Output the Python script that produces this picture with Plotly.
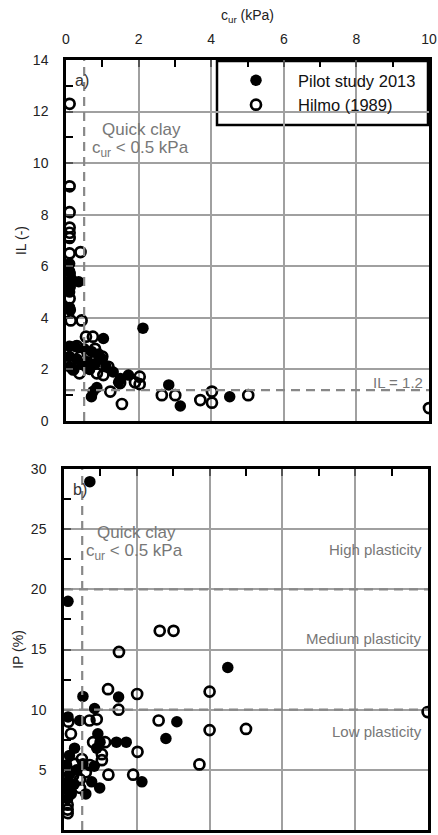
import plotly.graph_objects as go

# ---------------- data ----------------
# Panel a: remoulded shear strength c_ur (kPa) vs liquidity index IL (-)
pilot_a_cur = [0.1, 0.1, 0.15, 0.35, 0.1, 0.1, 0.1, 0.12, 2.12, 1.03, 0.1, 0.25, 0.5, 0.7, 0.9,
               0.1, 0.3, 0.6, 0.8, 1.0, 0.1, 0.2, 0.45, 0.65, 1.3, 1.5, 1.72, 1.45, 0.85, 0.75,
               0.7, 2.83, 3.15, 4.51, 0.9, 1.1]
pilot_a_il = [6.1, 5.8, 5.5, 5.4, 5.3, 5.0, 4.4, 4.3, 3.6, 3.2, 2.9, 2.9, 2.8, 2.7, 2.6,
              2.5, 2.4, 2.3, 2.2, 2.4, 2.1, 2.0, 2.2, 2.0, 1.9, 1.65, 1.78, 1.5, 1.3, 1.15,
              0.94, 1.4, 0.58, 0.94, 2.5, 2.1]

hilmo_a_cur = [0.1, 0.1, 0.1, 0.1, 0.1, 0.1, 0.1, 0.4, 0.1, 0.1, 0.1, 0.13, 0.43, 0.55, 0.74,
               0.3, 0.6, 0.1, 0.4, 0.8, 1.0, 1.17, 0.37, 0.85, 1.03, 1.22, 1.54, 1.49, 2.03,
               2.03, 1.9, 2.64, 3.01, 3.7, 4.02, 4.02, 5.02, 10.0, 0.2]
hilmo_a_il = [12.3, 9.1, 8.1, 7.5, 7.3, 7.1, 6.5, 6.55, 5.7, 5.2, 4.75, 3.9, 3.9, 3.27, 3.27,
              2.9, 2.6, 2.2, 2.5, 2.8, 2.5, 2.1, 1.85, 1.85, 1.78, 1.14, 0.66, 1.47, 1.72,
              1.43, 1.5, 1.0, 1.0, 0.81, 1.14, 0.71, 1.0, 0.5, 2.0]

# Panel b: c_ur (kPa) vs plasticity index IP (%)
pilot_b_cur = [0.71, 0.11, 4.5, 0.52, 1.5, 0.84, 0.11, 0.43, 3.1, 2.8, 0.93, 1.44, 1.71, 0.99,
               0.29, 0.15, 0.52, 0.83, 0.07, 0.15, 0.76, 2.14, 0.28, 0.98, 0.07, 0.1, 0.6,
               0.35, 0.1, 0.9, 0.2]
pilot_b_ip = [28.95, 19.0, 13.5, 11.1, 11.05, 10.1, 9.4, 9.1, 9.0, 7.6, 8.0, 7.3, 7.3, 7.3,
              6.8, 6.2, 5.5, 5.3, 5.4, 4.6, 4.0, 4.0, 3.8, 3.5, 3.4, 2.6, 3.0,
              5.0, 4.0, 6.8, 3.0]

hilmo_b_cur = [2.63, 3.01, 1.51, 1.21, 2.01, 4.0, 9.99, 1.5, 0.12, 0.7, 0.9, 2.6, 4.0, 5.0,
               0.19, 0.8, 1.13, 2.02, 1.04, 1.04, 0.49, 0.71, 0.1, 3.72, 1.22, 1.9, 0.6,
               0.44, 0.44, 0.1, 0.1, 0.1, 0.1, 0.25, 0.3]
hilmo_b_ip = [16.55, 16.55, 14.8, 11.7, 11.3, 11.5, 9.8, 10.0, 9.0, 9.1, 9.2, 9.1, 8.3, 8.4,
              8.0, 7.3, 7.3, 6.5, 6.3, 5.8, 5.9, 5.4, 5.0, 5.45, 4.6, 4.6, 4.8,
              4.2, 3.5, 2.9, 2.1, 1.7, 1.4, 4.5, 5.5]

series_names = ["Pilot study 2013", "Hilmo (1989)"]
quick_clay_limit = 0.5      # kPa
il_limit = 1.2
ip_limits = [10, 20]
x_ticks = [0, 2, 4, 6, 8, 10]

# ---------------- figure ----------------
W, H = 438, 835
FONT = "Arial, Liberation Sans, sans-serif"
GRID = "#a0a0a0"
DASH = "#888888"
TXT = "#777777"


def px_x(p):
    return p / W


def px_y(p):
    return 1 - p / H


fig = go.Figure()

filled = dict(symbol="circle", size=11.5, color="black", line=dict(width=0))
opened = dict(symbol="circle-open", size=10, color="black", line=dict(width=2.7))

fig.add_trace(go.Scatter(x=pilot_a_cur, y=pilot_a_il, mode="markers", marker=filled,
                         name=series_names[0], xaxis="x", yaxis="y"))
fig.add_trace(go.Scatter(x=hilmo_a_cur, y=hilmo_a_il, mode="markers", marker=opened,
                         name=series_names[1], xaxis="x", yaxis="y"))
fig.add_trace(go.Scatter(x=pilot_b_cur, y=pilot_b_ip, mode="markers", marker=filled,
                         name=series_names[0], xaxis="x2", yaxis="y2", showlegend=False))
fig.add_trace(go.Scatter(x=hilmo_b_cur, y=hilmo_b_ip, mode="markers", marker=opened,
                         name=series_names[1], xaxis="x2", yaxis="y2", showlegend=False))

common_axis = dict(showline=True, linecolor="black", linewidth=2.5, mirror=True,
                   showgrid=True, gridcolor=GRID, gridwidth=1.6, zeroline=False,
                   ticks="inside", ticklen=7, tickwidth=2, tickcolor="#555",
                   tickfont=dict(family=FONT, size=14, color="#222"),
                   automargin=False)
minor_tk = dict(ticks="inside", ticklen=7, tickwidth=2, tickcolor="black", showgrid=False)

fig.update_layout(
    width=W, height=H, plot_bgcolor="white", paper_bgcolor="white",
    margin=dict(l=0, r=0, t=0, b=0),
    font=dict(family=FONT, color="#222"),
    xaxis=dict(common_axis, domain=[px_x(66), px_x(429)], range=[0, 10], side="top",
               anchor="y", tickvals=x_ticks, ticklabelstandoff=8,
               minor=dict(minor_tk, dtick=1),
               title=dict(text="c<sub>ur</sub> (kPa)", font=dict(size=14, family=FONT),
                          standoff=7)),
    yaxis=dict(common_axis, domain=[px_y(421), px_y(60)], range=[0, 14], dtick=2,
               anchor="x", ticklabelstandoff=12,
               minor=dict(minor_tk, dtick=1),
               title=dict(text="IL (-)", font=dict(size=14, family=FONT), standoff=3)),
    xaxis2=dict(common_axis, domain=[px_x(64), px_x(428)], range=[0, 10], side="top",
                anchor="y2", tickvals=x_ticks, showticklabels=False,
                minor=dict(minor_tk, dtick=1)),
    yaxis2=dict(common_axis, domain=[px_y(830), px_y(469)], range=[0, 30], dtick=5,
                anchor="x2", ticklabelstandoff=12,
                minor=dict(minor_tk, dtick=2.5),
                title=dict(text="IP (%)", font=dict(size=14, family=FONT), standoff=4)),
    legend=dict(x=px_x(214), y=px_y(63), xanchor="left", yanchor="top",
                bgcolor="rgba(0,0,0,0)", borderwidth=0,
                font=dict(family=FONT, size=16.5, color="#111"),
                itemwidth=74, tracegroupgap=4),
    showlegend=True,
    hovermode=False,
)

shapes = []
# legend box
shapes.append(dict(type="rect", xref="paper", yref="paper", x0=px_x(217), x1=px_x(428),
                   y0=px_y(125), y1=px_y(61), line=dict(color="black", width=2.5),
                   fillcolor="white", layer="below"))
# quick clay vertical dashed lines
for xr, yr, ytop in (("x", "y", 14), ("x2", "y2", 30)):
    shapes.append(dict(type="line", xref=xr, yref=yr, x0=quick_clay_limit, x1=quick_clay_limit,
                       y0=0, y1=ytop, line=dict(color=DASH, width=2.2, dash="9px,6px"),
                       layer="above"))
# IL limit
shapes.append(dict(type="line", xref="x", yref="y", x0=0, x1=10, y0=il_limit, y1=il_limit,
                   line=dict(color=DASH, width=2.2, dash="9px,6px"), layer="above"))
# IP limits
for v in ip_limits:
    shapes.append(dict(type="line", xref="x2", yref="y2", x0=0, x1=10, y0=v, y1=v,
                       line=dict(color=DASH, width=2.2, dash="9px,6px"), layer="above"))
fig.update_layout(shapes=shapes)

ann = []


def add_text(text, x, y, xref, yref, xanchor="left", size=15, color=TXT):
    ann.append(dict(text=text, x=x, y=y, xref=xref, yref=yref, xanchor=xanchor,
                    yanchor="middle", showarrow=False,
                    font=dict(family=FONT, size=size, color=color)))


add_text("a)", 0.2, 13.2, "x", "y", size=16, color="#333")
add_text("Quick clay", 0.95, 11.3, "x", "y", size=17)
add_text("c<sub>ur</sub> < 0.5 kPa", 0.65, 10.55, "x", "y", size=17)
add_text("IL = 1.2", 9.9, 1.5, "x", "y", xanchor="right", size=15)

add_text("b)", 0.2, 28.3, "x2", "y2", size=16, color="#333")
add_text("Quick clay", 0.85, 24.7, "x2", "y2", size=17)
add_text("c<sub>ur</sub> < 0.5 kPa", 0.55, 23.1, "x2", "y2", size=17)
add_text("High plasticity", 9.9, 23.3, "x2", "y2", xanchor="right", size=15)
add_text("Medium plasticity", 9.9, 15.9, "x2", "y2", xanchor="right", size=15)
add_text("Low plasticity", 9.9, 8.2, "x2", "y2", xanchor="right", size=15)

fig.update_layout(annotations=ann)

fig.write_html("out.html",
               config={"displayModeBar": False},
               post_script="document.body.style.margin='0px';"
                           "document.body.style.overflow='hidden';")
